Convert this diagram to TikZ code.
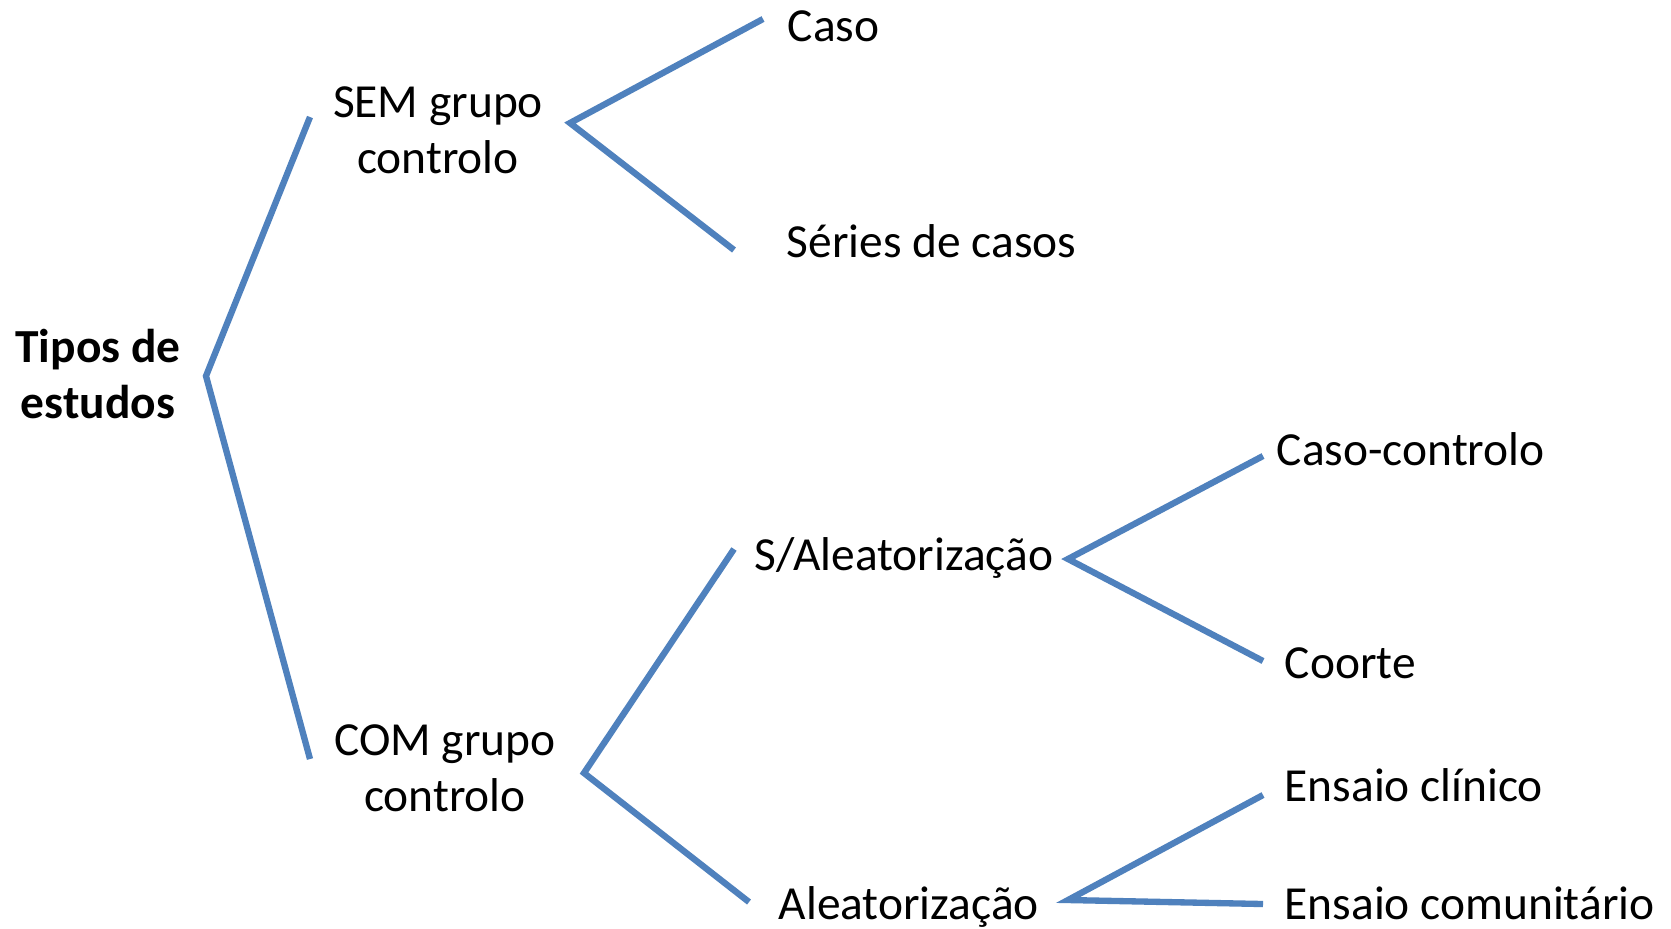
\documentclass[tikz,border=0pt]{standalone}
\usepackage{fontspec}
\setmainfont{Carlito}
\definecolor{branchblue}{HTML}{4F81BD}

\begin{document}
\begin{tikzpicture}[x=0.1mm,y=-0.1mm,font=\fontsize{13.5}{15.9}\selectfont,
  lbl/.style={inner sep=0pt,anchor=base west},
  twoline/.style={inner sep=0pt,anchor=base,align=center},
  branch/.style={draw=branchblue,line width=1.8pt}]
\fill[white] (0,0) rectangle (1671,928);

\node[twoline] (tipos) at (98,418) {\bfseries Tipos de\\\bfseries estudos};
\node[twoline] (sem) at (438,173) {SEM grupo\\controlo};
\node[twoline] (com) at (445,811) {COM grupo\\controlo};
\node[lbl] (caso) at (787,41) {Caso};
\node[lbl] (series) at (786,257) {Séries de casos};
\node[lbl] (semale) at (754,570) {S/Aleatorização};
\node[lbl] (ale) at (778,919) {Aleatorização};
\node[lbl] (casoctl) at (1276,465) {Caso-controlo};
\node[lbl] (coorte) at (1284,678) {Coorte};
\node[lbl] (clinico) at (1284,801) {Ensaio clínico};
\node[lbl] (comunit) at (1284,919) {Ensaio comunitário};

% branch ends and forks
\coordinate (tipos-fork) at (206,376);
\coordinate (sem-in) at (310,117);
\coordinate (com-in) at (310,759);
\coordinate (sem-fork) at (570,123);
\coordinate (caso-in) at (763,19);
\coordinate (series-in) at (734,250);
\coordinate (com-fork) at (584,773);
\coordinate (semale-in) at (734,549);
\coordinate (ale-in) at (749,902);
\coordinate (semale-fork) at (1068,559);
\coordinate (casoctl-in) at (1263,456);
\coordinate (coorte-in) at (1263,661);
\coordinate (ale-fork) at (1068,900);
\coordinate (clinico-in) at (1263,795);
\coordinate (comunit-in) at (1263,904);

\foreach \f/\a/\b in {tipos/sem/com,sem/caso/series,com/semale/ale,semale/casoctl/coorte,ale/clinico/comunit}{\draw[branch] (\a-in)--(\f-fork)--(\b-in);}

\end{tikzpicture}
\end{document}
